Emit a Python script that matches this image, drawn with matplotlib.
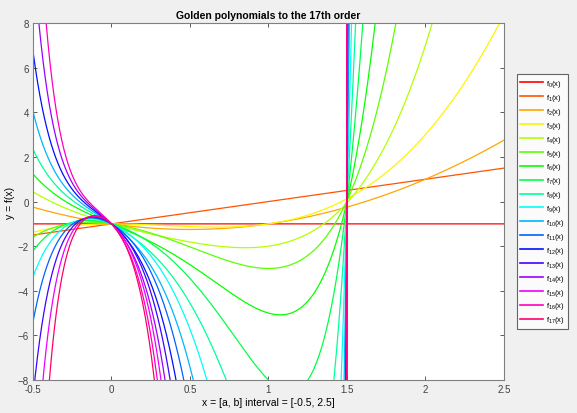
import numpy as np
import matplotlib
matplotlib.use("Agg")
import matplotlib.pyplot as plt

# polynomial coefficients, ascending powers of x (f_n = x*f_{n-1} + f_{n-2})
f0 = [-1]
f1 = [-1, 1]
f2 = [-1, -1, 1]
f3 = [-1, 0, -1, 1]
f4 = [-1, -2, 1, -1, 1]
f5 = [-1, -1, -3, 2, -1, 1]
f6 = [-1, -3, 0, -4, 3, -1, 1]
f7 = [-1, -2, -6, 2, -5, 4, -1, 1]
f8 = [-1, -4, -2, -10, 5, -6, 5, -1, 1]
f9 = [-1, -3, -10, 0, -15, 9, -7, 6, -1, 1]
f10 = [-1, -5, -5, -20, 5, -21, 14, -8, 7, -1, 1]
f11 = [-1, -4, -15, -5, -35, 14, -28, 20, -9, 8, -1, 1]
f12 = [-1, -6, -9, -35, 0, -56, 28, -36, 27, -10, 9, -1, 1]
f13 = [-1, -5, -21, -14, -70, 14, -84, 48, -45, 35, -11, 10, -1, 1]
f14 = [-1, -7, -14, -56, -14, -126, 42, -120, 75, -55, 44, -12, 11, -1, 1]
f15 = [-1, -6, -28, -28, -126, 0, -210, 90, -165, 110, -66, 54, -13, 12, -1, 1]
f16 = [-1, -8, -20, -84, -42, -252, 42, -330, 165, -220, 154, -78, 65, -14, 13, -1, 1]
f17 = [-1, -7, -36, -48, -210, -42, -462, 132, -495, 275, -286, 208, -91, 77, -15, 14, -1, 1]

polys = [f0, f1, f2, f3, f4, f5, f6, f7, f8, f9, f10, f11, f12, f13, f14, f15, f16, f17]

x_min, x_max = -0.5, 2.5
xticks = [-0.5, 0, 0.5, 1, 1.5, 2, 2.5]
xtick_labels = ['-0.5', '0', '0.5', '1', '1.5', '2', '2.5']
yticks = [-8, -6, -4, -2, 0, 2, 4, 6, 8]

plt.rcParams['font.family'] = ['Liberation Sans', 'DejaVu Sans']
plt.rcParams['mathtext.default'] = 'regular'

fig = plt.figure(figsize=(5.77, 4.14), dpi=100, facecolor='#f0f0f0')
ax = fig.add_axes([0.0572, 0.0797, 0.816, 0.862])

x = np.linspace(x_min, x_max, 6001)
colors = plt.cm.hsv(np.arange(len(polys)) / len(polys))
for n, c in enumerate(polys):
    y = np.polynomial.polynomial.polyval(x, c)
    ax.plot(x, y, color=colors[n], lw=0.9, label='f$_{%d}$(x)' % n)

ax.set_xlim(x_min, x_max)
ax.set_ylim(-8, 8)
ax.set_xticks(xticks)
ax.set_xticklabels(xtick_labels)
ax.set_yticks(yticks)
ax.tick_params(direction='in', top=True, right=True, length=3, width=0.6,
               labelsize=7, colors='#404040', pad=3)
for s in ax.spines.values():
    s.set_color('#808080')
    s.set_linewidth(0.8)

ax.set_title('Golden polynomials to the 17th order', fontsize=7.5,
             fontweight='bold', pad=4)
ax.set_xlabel('x = [a, b] interval = [-0.5, 2.5]', fontsize=7.5, labelpad=2)
ax.set_ylabel('y = f(x)', fontsize=7.5, labelpad=2)

leg = ax.legend(loc='upper left', bbox_to_anchor=(1.027, 0.857), fontsize=5.5,
                frameon=True, fancybox=False, edgecolor='#404040',
                handlelength=3.0, handletextpad=0.3, labelspacing=0.38,
                borderpad=0.5, borderaxespad=0)
leg.get_frame().set_linewidth(0.8)
for h in leg.get_lines():
    h.set_linewidth(1.2)

fig.savefig('out.png', dpi=100, facecolor=fig.get_facecolor())
